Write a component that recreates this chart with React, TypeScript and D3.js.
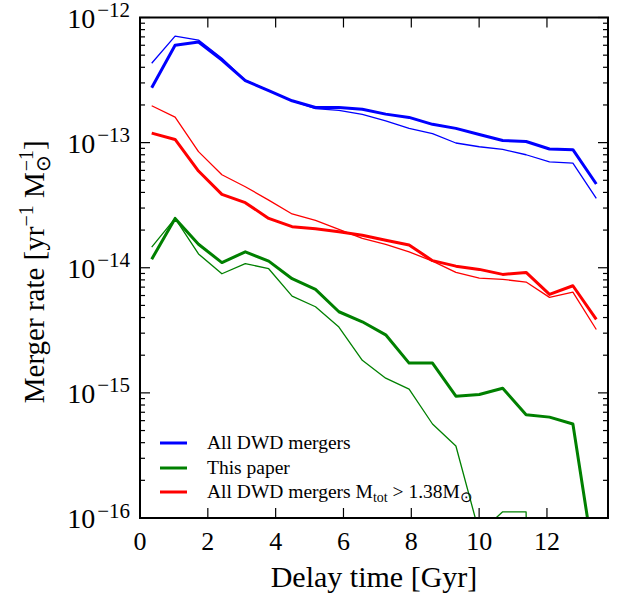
import React from "react";
import * as d3 from "d3";

// bin centres of the delay-time histogram [Gyr]
const delayTime = [
  0.345, 1.035, 1.725, 2.415, 3.105, 3.795, 4.485, 5.175, 5.865, 6.555,
  7.245, 7.935, 8.625, 9.315, 10.005, 10.695, 11.385, 12.075, 12.765, 13.455,
];

// All DWD mergers
const allThick = [
  2.75e-13, 6.0e-13, 6.37e-13, 4.57e-13, 3.13e-13, 2.6e-13, 2.16e-13, 1.91e-13, 1.91e-13, 1.85e-13,
  1.69e-13, 1.59e-13, 1.4e-13, 1.3e-13, 1.16e-13, 1.04e-13, 1.02e-13, 8.89e-14, 8.78e-14, 4.67e-14,
];
const allThin = [
  4.31e-13, 7.1e-13, 6.6e-13, 4.72e-13, 3.16e-13, 2.6e-13, 2.16e-13, 1.87e-13, 1.81e-13, 1.68e-13,
  1.49e-13, 1.3e-13, 1.18e-13, 9.93e-14, 9.27e-14, 8.83e-14, 8.0e-14, 7.03e-14, 6.87e-14, 3.59e-14,
];

// This paper
const paperThick = [
  1.17e-14, 2.48e-14, 1.54e-14, 1.1e-14, 1.34e-14, 1.13e-14, 8.17e-15, 6.71e-15, 4.45e-15, 3.7e-15,
  2.91e-15, 1.73e-15, 1.73e-15, 9.4e-16, 9.7e-16, 1.09e-15, 6.7e-16, 6.4e-16, 5.64e-16, 3.5e-17,
];
const paperThin = [
  1.46e-14, 2.48e-14, 1.29e-14, 8.95e-15, 1.08e-14, 9.82e-15, 5.94e-15, 4.88e-15, 3.36e-15, 1.82e-15,
  1.31e-15, 1.07e-15, 5.64e-16, 3.76e-16, 7.6e-17, 1.12e-16, 1.12e-16, 1e-30, 1e-30, 1e-30,
];

// All DWD mergers with M_tot > 1.38 Msun
const massiveThick = [
  1.19e-13, 1.06e-13, 5.93e-14, 3.86e-14, 3.31e-14, 2.48e-14, 2.13e-14, 2.05e-14, 1.94e-14, 1.82e-14,
  1.66e-14, 1.52e-14, 1.14e-14, 1.03e-14, 9.7e-15, 8.85e-15, 9.18e-15, 6.12e-15, 7.18e-15, 3.86e-15,
];
const massiveThin = [
  1.97e-13, 1.6e-13, 8.47e-14, 5.54e-14, 4.44e-14, 3.47e-14, 2.69e-14, 2.39e-14, 2.03e-14, 1.72e-14,
  1.54e-14, 1.34e-14, 1.13e-14, 9.18e-15, 8.27e-15, 8.07e-15, 7.69e-15, 5.8e-15, 6.39e-15, 3.21e-15,
];

const xTicks = [0, 2, 4, 6, 8, 10, 12];
const yExponents = [-12, -13, -14, -15, -16];
const legendLabels = ["All DWD mergers", "This paper", "All DWD mergers"];

const W = 624;
const H = 601;
const left = 140;
const right = 608;
const top = 17.5;
const bottom = 518;
const tf = { fontFamily: "'Liberation Serif', serif" };

const series = [
  { color: "#0000ff", thick: allThick, thin: allThin },
  { color: "#008000", thick: paperThick, thin: paperThin },
  { color: "#ff0000", thick: massiveThick, thin: massiveThin },
];

export default function App() {
  const x = d3.scaleLinear().domain([0, 13.8]).range([left, right]);
  const y = d3.scaleLog().domain([1e-16, 1e-12]).range([bottom, top]);

  const line = d3
    .line<number>()
    .x((_, i) => x(delayTime[i]))
    .y((d) => y(d));

  const minor: number[] = [];
  yExponents.slice(0, -1).forEach((e) => {
    for (let k = 2; k <= 9; k++) minor.push(k * Math.pow(10, e - 1));
  });

  const legendY = [443, 468, 492];

  return (
    <svg width={W} height={H} style={{ position: "absolute", left: 0, top: 0, background: "#fff" }}>
      <style>{`text, tspan { font-family: "Liberation Serif", serif !important; }`}</style>
      <defs>
        <clipPath id="plot">
          <rect x={left} y={top} width={right - left} height={bottom - top} />
        </clipPath>
      </defs>

      <g clipPath="url(#plot)" fill="none" strokeLinejoin="round">
        {series.map((s, i) => (
          <g key={i} stroke={s.color}>
            <path d={line(s.thin) || ""} strokeWidth={1.3} />
            <path d={line(s.thick) || ""} strokeWidth={3} />
          </g>
        ))}
      </g>

      {/* ticks, all pointing inwards */}
      <g stroke="#000" strokeWidth={1.2}>
        {xTicks.map((t) => (
          <g key={t}>
            <line x1={x(t)} x2={x(t)} y1={bottom} y2={bottom - 10} />
            <line x1={x(t)} x2={x(t)} y1={top} y2={top + 10} />
          </g>
        ))}
        {yExponents.map((e) => (
          <g key={e}>
            <line x1={left} x2={left + 10} y1={y(Math.pow(10, e))} y2={y(Math.pow(10, e))} />
            <line x1={right} x2={right - 10} y1={y(Math.pow(10, e))} y2={y(Math.pow(10, e))} />
          </g>
        ))}
        {minor.map((v, i) => (
          <g key={i}>
            <line x1={left} x2={left + 5} y1={y(v)} y2={y(v)} />
            <line x1={right} x2={right - 5} y1={y(v)} y2={y(v)} />
          </g>
        ))}
      </g>

      <rect
        x={left}
        y={top}
        width={right - left}
        height={bottom - top}
        fill="none"
        stroke="#000"
        strokeWidth={2}
      />

      {/* tick labels */}
      {xTicks.map((t) => (
        <text key={t} x={x(t)} y={bottom + 32} fontSize={26} style={tf} textAnchor="middle">
          {t}
        </text>
      ))}
      {yExponents.map((e) => (
        <text key={e} x={left - 10} y={y(Math.pow(10, e)) + 10} fontSize={28} style={tf} textAnchor="end">
          10
          <tspan dx={2} dy={-10.5} fontSize={21}>
            {"\u2212" + Math.abs(e)}
          </tspan>
        </text>
      ))}

      {/* axis labels */}
      <text x={(left + right) / 2} y={587} fontSize={30} style={tf} textAnchor="middle">
        Delay time [Gyr]
      </text>
      <text
        transform={`translate(44,${(top + bottom) / 2 + 4}) rotate(-90)`}
        fontSize={29}
        style={tf}
        textAnchor="middle"
      >
        Merger rate [yr
        <tspan dy={-11} fontSize={20}>{"\u22121"}</tspan>
        <tspan dy={11}> M</tspan>
        <tspan dy={6} fontSize={20}>{"\u2299"}</tspan>
        <tspan dx={-16} dy={-17} fontSize={20}>{"\u22121"}</tspan>
        <tspan dy={11}>]</tspan>
      </text>

      {/* legend */}
      {series.map((s, i) => (
        <line key={i} x1={160} x2={187} y1={legendY[i]} y2={legendY[i]} stroke={s.color} strokeWidth={3} />
      ))}
      <text x={207} y={legendY[0] + 6} fontSize={19.5} style={tf}>{legendLabels[0]}</text>
      <text x={207} y={legendY[1] + 6} fontSize={19.5} style={tf}>{legendLabels[1]}</text>
      <text x={207} y={legendY[2] + 6} fontSize={19.5} style={tf}>
        {legendLabels[2]} M
        <tspan dy={4} fontSize={14}>tot</tspan>
        <tspan dy={-4}>{"  > 1.38M"}</tspan>
        <tspan dy={4} fontSize={15}>{"\u2299"}</tspan>
      </text>
    </svg>
  );
}
